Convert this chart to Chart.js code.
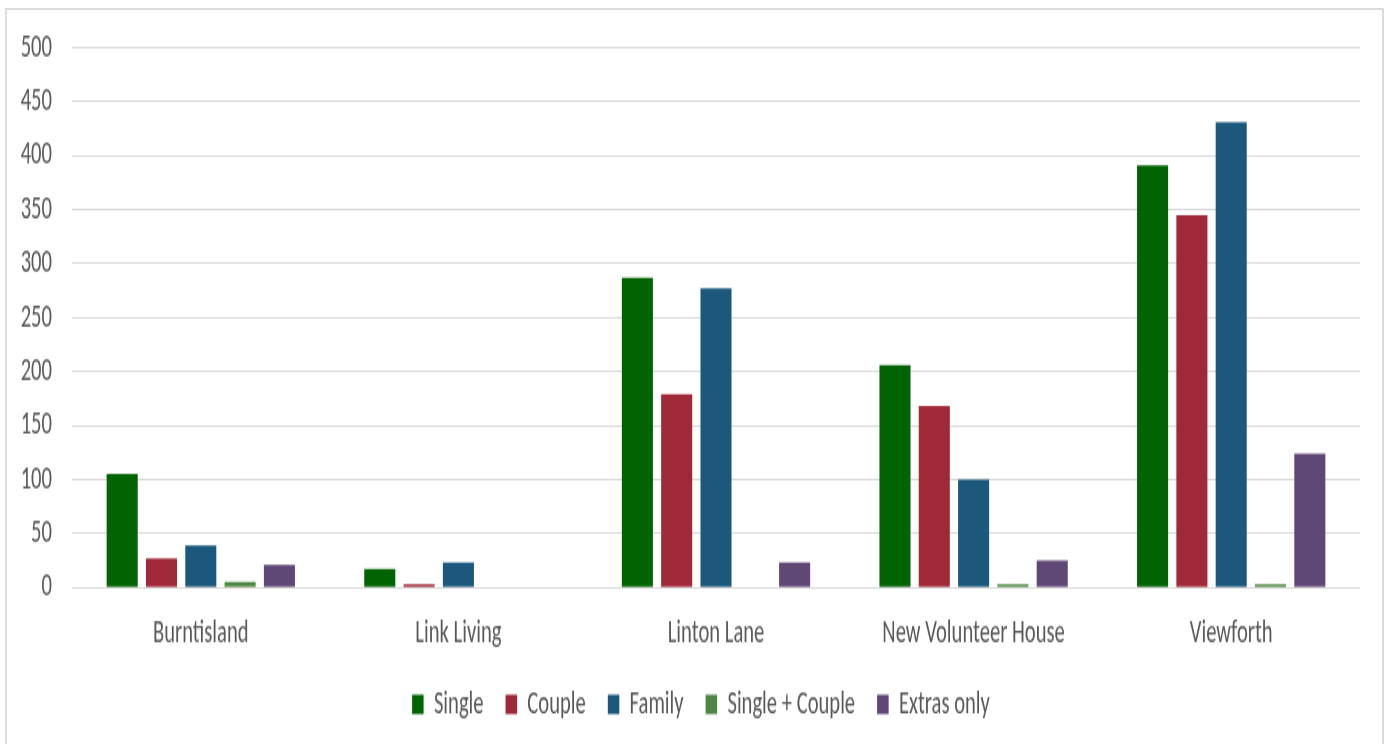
<!DOCTYPE html>
<html>
<head>
<meta charset="utf-8">
<script src="https://cdn.jsdelivr.net/npm/chart.js@4.4.1/dist/chart.umd.min.js"></script>
<style>
  html,body{margin:0;padding:0;background:#fff;overflow:hidden;width:1392px;height:744px}
  #frame{position:absolute;left:5px;top:8px;width:1379px;height:760px;border:2px solid #dcdcdc;box-sizing:border-box}
  #chartSites{position:absolute;left:0;top:0}
</style>
</head>
<body>
<div id="frame"></div>
<!-- the reference is a squeezed Excel export: draw narrow, stretch tall via inline style -->
<canvas id="chartSites" width="1392" height="460" style="width:1392px;height:744px"></canvas>
<script>
const SITES   = ['Burntisland','Link Living','Linton Lane','New Volunteer House','Viewforth'];
const SINGLE  = [105, 17, 287, 206, 391];
const COUPLE  = [27, 3, 179, 168, 345];
const FAMILY  = [39, 23, 277, 100, 431];
const SINGLE_COUPLE = [5, 0, 0, 3, 3];
const EXTRAS  = [21, 0, 23, 25, 124];
const Y_MAX = 500, Y_STEP = 50;

const C = { single:'#016301', couple:'#A02937', family:'#1C587C', singleCouple:'#4E8743', extras:'#604876' };
const FONT = { family:'Carlito, "Liberation Sans", sans-serif', size:20.6 };
const TXT = '#595959', GRID = '#d9d9d9';

const mk = (label, data, color) => ({ label, data, backgroundColor:color, borderWidth:0,
  categoryPercentage:0.763, barPercentage:0.79 });

// Excel centres the legend on the whole frame, not on the plot: nudge it right
const legendNudge = {
  id:'legendNudge',
  afterLayout(chart) {
    if (!chart.legend) return;
    chart.legend.left += 21;
    chart.legend.right += 21;
  }
};

const ctx = document.getElementById('chartSites').getContext('2d');
new Chart(ctx, {
  type:'bar',
  data:{
    labels:SITES,
    datasets:[
      mk('Single', SINGLE, C.single),
      mk('Couple', COUPLE, C.couple),
      mk('Family', FAMILY, C.family),
      mk('Single + Couple', SINGLE_COUPLE, C.singleCouple),
      mk('Extras only', EXTRAS, C.extras),
    ]
  },
  plugins:[legendNudge],
  options:{
    responsive:false, animation:false, devicePixelRatio:1,
    layout:{ padding:{ top:29.5, right:32, bottom:4.2, left:0 } },
    plugins:{
      tooltip:{ enabled:false },
      legend:{ position:'bottom',
        labels:{ font:FONT, color:TXT, boxWidth:11.5, boxHeight:12, padding:22 } }
    },
    scales:{
      x:{ grid:{ display:false }, border:{ display:false },
          ticks:{ font:FONT, color:TXT, padding:8, maxRotation:0 },
          afterFit: s => { s.height = 40; } },
      y:{ min:0, max:Y_MAX, grid:{ color:GRID, lineWidth:1, drawTicks:false }, border:{ display:false },
          ticks:{ stepSize:Y_STEP, font:FONT, color:TXT, padding:20 },
          // tick padding would otherwise push the plot top down as well
          afterFit: s => { s.width = 72; s.paddingTop = 0; } }
    }
  }
});
</script>
</body>
</html>
